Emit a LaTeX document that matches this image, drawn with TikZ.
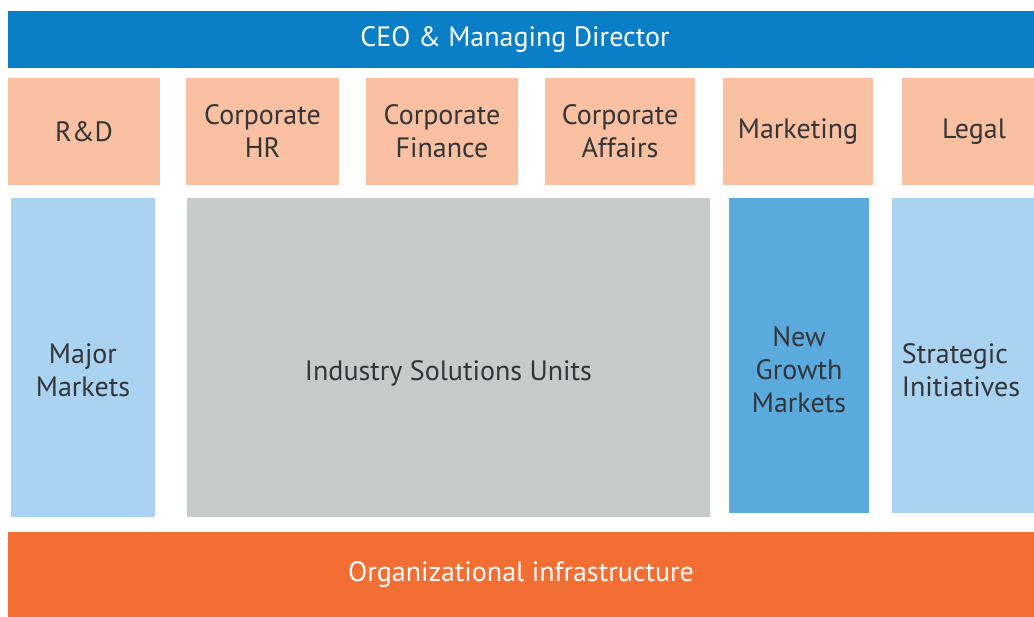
\documentclass[tikz,border=0pt]{standalone}
\usepackage{fontspec}
\setmainfont{PT Sans}
\usetikzlibrary{positioning}
\definecolor{Ink}{HTML}{333538}
\definecolor{OrgBlue}{HTML}{0A7EC7}
\definecolor{OrgPeach}{HTML}{F9C0A2}
\definecolor{OrgSky}{HTML}{A9D3F1}
\definecolor{OrgMid}{HTML}{5BAADD}
\definecolor{OrgGrey}{HTML}{C6CBC9}
\definecolor{OrgOrange}{HTML}{F26E33}

\begin{document}
\begin{tikzpicture}[
  x=1pt,y=-1pt,
  every node/.style={font=\fontsize{28}{33}\selectfont,align=center,inner sep=0pt},
  bar/.style={fill=#1,text=white,minimum width=1026pt},
  staff/.style={fill=OrgPeach,text=Ink,minimum height=107pt},
  unit/.style={fill=#1,minimum height=319pt},
  caption/.style={text=Ink}
]
\useasboundingbox (0,0) rectangle (1034,617);
% top and bottom bars
\node[bar=OrgBlue,minimum height=57pt] (ceo) at (521,39.5) {\hspace*{-12pt}CEO \& Managing Director};
\node[bar=OrgOrange,minimum height=85pt] (infra) at (521,574.5) {Organizational infrastructure};
% corporate functions
\node[staff,minimum width=152pt] (rd) at (84,131.5) {R\&D};
\node[staff,minimum width=153pt] (hr) at (262.5,131.5) {Corporate\\HR};
\node[staff,minimum width=152pt] (fin) at (442,131.5) {Corporate\\Finance};
\node[staff,minimum width=150pt] (aff) at (620,131.5) {Corporate\\Affairs};
\node[staff,minimum width=150pt] (mkt) at (798,131.5) {Marketing};
\node[staff,minimum width=132pt] (legal) at (968,131.5) {\hspace*{12pt}Legal};
% business units
\node[unit=OrgSky,minimum width=144pt] (major) at (83,357.5) {};
\node[unit=OrgGrey,minimum width=523pt] (isu) at (448.5,357.5) {};
\node[unit=OrgMid,minimum width=140pt,minimum height=315pt] (ngm) at (799,355.5) {};
\node[unit=OrgSky,minimum width=142pt,minimum height=315pt] (strat) at (963,355.5) {};
\node[caption] (major-t) at ([yshift=-12.5pt]major.center) {Major\\Markets};
\node[caption] (isu-t) at ([yshift=-16pt]isu.center) {Industry Solutions Units};
\node[caption] (ngm-t) at ([yshift=-14pt]ngm.center) {New\\Growth\\Markets};
\node[caption,align=left] (strat-t) at ([yshift=-14.5pt,xshift=-2pt]strat.center) {Strategic\\Initiatives};
\end{tikzpicture}
\end{document}
